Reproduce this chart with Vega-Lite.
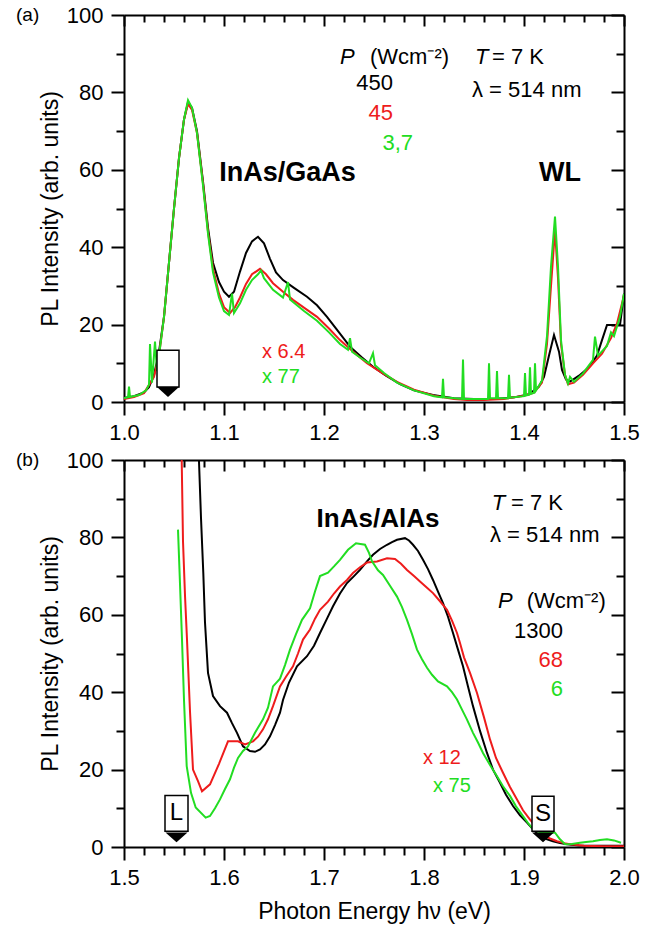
{
  "$schema": "https://vega.github.io/schema/vega-lite/v6.json",
  "autosize": {"type": "none"},
  "padding": {"left": 124, "top": 15, "right": 33, "bottom": 916},
  "background": "white",
  "spacing": 58,
  "bounds": "flush",
  "resolve": {"scale": {"x": "independent", "y": "independent"}},
  "datasets": {
    "a": [
      {"E":1.000,"I":1.0,"s":"high"},{"E":1.010,"I":1.5,"s":"high"},{"E":1.020,"I":2.5,"s":"high"},{"E":1.025,"I":3.8,"s":"high"},{"E":1.030,"I":7,"s":"high"},{"E":1.035,"I":13,"s":"high"},{"E":1.040,"I":22,"s":"high"},{"E":1.045,"I":36,"s":"high"},{"E":1.050,"I":50,"s":"high"},{"E":1.055,"I":63,"s":"high"},{"E":1.060,"I":73,"s":"high"},{"E":1.064,"I":77.5,"s":"high"},{"E":1.068,"I":76,"s":"high"},{"E":1.073,"I":70,"s":"high"},{"E":1.079,"I":57,"s":"high"},{"E":1.084,"I":45,"s":"high"},{"E":1.089,"I":36,"s":"high"},{"E":1.095,"I":31,"s":"high"},{"E":1.100,"I":28.5,"s":"high"},{"E":1.105,"I":27.2,"s":"high"},{"E":1.110,"I":28.5,"s":"high"},{"E":1.116,"I":33.7,"s":"high"},{"E":1.122,"I":38.5,"s":"high"},{"E":1.128,"I":41.5,"s":"high"},{"E":1.134,"I":42.7,"s":"high"},{"E":1.140,"I":41,"s":"high"},{"E":1.146,"I":37,"s":"high"},{"E":1.152,"I":33.5,"s":"high"},{"E":1.159,"I":31.5,"s":"high"},{"E":1.170,"I":29.5,"s":"high"},{"E":1.183,"I":27.2,"s":"high"},{"E":1.193,"I":25,"s":"high"},{"E":1.203,"I":22,"s":"high"},{"E":1.215,"I":18,"s":"high"},{"E":1.226,"I":14.3,"s":"high"},{"E":1.238,"I":11.5,"s":"high"},{"E":1.249,"I":9.1,"s":"high"},{"E":1.262,"I":6.8,"s":"high"},{"E":1.276,"I":4.6,"s":"high"},{"E":1.290,"I":3,"s":"high"},{"E":1.309,"I":1.8,"s":"high"},{"E":1.330,"I":1.0,"s":"high"},{"E":1.350,"I":0.8,"s":"high"},{"E":1.370,"I":0.8,"s":"high"},{"E":1.390,"I":1.2,"s":"high"},{"E":1.405,"I":2,"s":"high"},{"E":1.415,"I":4,"s":"high"},{"E":1.420,"I":6.5,"s":"high"},{"E":1.425,"I":12,"s":"high"},{"E":1.430,"I":17.3,"s":"high"},{"E":1.435,"I":13,"s":"high"},{"E":1.438,"I":8.3,"s":"high"},{"E":1.442,"I":5.8,"s":"high"},{"E":1.446,"I":5.3,"s":"high"},{"E":1.455,"I":6.8,"s":"high"},{"E":1.465,"I":9,"s":"high"},{"E":1.473,"I":12,"s":"high"},{"E":1.478,"I":16,"s":"high"},{"E":1.483,"I":19.9,"s":"high"},{"E":1.496,"I":19.9,"s":"high"},{"E":1.500,"I":28,"s":"high"},
      {"E":1.000,"I":0.8,"s":"mid"},{"E":1.010,"I":1.3,"s":"mid"},{"E":1.020,"I":2.3,"s":"mid"},{"E":1.030,"I":6.5,"s":"mid"},{"E":1.035,"I":12,"s":"mid"},{"E":1.040,"I":22,"s":"mid"},{"E":1.045,"I":36,"s":"mid"},{"E":1.050,"I":50,"s":"mid"},{"E":1.055,"I":63,"s":"mid"},{"E":1.060,"I":73,"s":"mid"},{"E":1.064,"I":77,"s":"mid"},{"E":1.068,"I":75.5,"s":"mid"},{"E":1.073,"I":69.5,"s":"mid"},{"E":1.079,"I":56.5,"s":"mid"},{"E":1.084,"I":44,"s":"mid"},{"E":1.089,"I":34.5,"s":"mid"},{"E":1.095,"I":28,"s":"mid"},{"E":1.100,"I":24.5,"s":"mid"},{"E":1.106,"I":23,"s":"mid"},{"E":1.111,"I":24.5,"s":"mid"},{"E":1.116,"I":27,"s":"mid"},{"E":1.122,"I":30.5,"s":"mid"},{"E":1.128,"I":33,"s":"mid"},{"E":1.136,"I":34.4,"s":"mid"},{"E":1.142,"I":33,"s":"mid"},{"E":1.149,"I":30.7,"s":"mid"},{"E":1.159,"I":28.5,"s":"mid"},{"E":1.169,"I":26.4,"s":"mid"},{"E":1.181,"I":24.2,"s":"mid"},{"E":1.193,"I":22,"s":"mid"},{"E":1.205,"I":19,"s":"mid"},{"E":1.216,"I":16,"s":"mid"},{"E":1.230,"I":12.8,"s":"mid"},{"E":1.243,"I":10,"s":"mid"},{"E":1.258,"I":7.5,"s":"mid"},{"E":1.273,"I":5.2,"s":"mid"},{"E":1.290,"I":3.2,"s":"mid"},{"E":1.310,"I":1.6,"s":"mid"},{"E":1.330,"I":0.8,"s":"mid"},{"E":1.343,"I":0.5,"s":"mid"},{"E":1.360,"I":0.5,"s":"mid"},{"E":1.380,"I":0.8,"s":"mid"},{"E":1.400,"I":1.6,"s":"mid"},{"E":1.410,"I":2.4,"s":"mid"},{"E":1.418,"I":5,"s":"mid"},{"E":1.423,"I":15,"s":"mid"},{"E":1.427,"I":30,"s":"mid"},{"E":1.431,"I":44.4,"s":"mid"},{"E":1.434,"I":32,"s":"mid"},{"E":1.437,"I":15,"s":"mid"},{"E":1.441,"I":7,"s":"mid"},{"E":1.444,"I":4.6,"s":"mid"},{"E":1.450,"I":5,"s":"mid"},{"E":1.459,"I":7,"s":"mid"},{"E":1.469,"I":10,"s":"mid"},{"E":1.478,"I":12.5,"s":"mid"},{"E":1.487,"I":16.5,"s":"mid"},{"E":1.493,"I":20.3,"s":"mid"},{"E":1.500,"I":27.6,"s":"mid"},
      {"E":1.000,"I":1.0,"s":"low"},{"E":1.004,"I":1.2,"s":"low"},{"E":1.005,"I":4,"s":"low"},{"E":1.006,"I":1.3,"s":"low"},{"E":1.015,"I":1.8,"s":"low"},{"E":1.022,"I":3,"s":"low"},{"E":1.025,"I":4.5,"s":"low"},{"E":1.026,"I":15,"s":"low"},{"E":1.028,"I":5,"s":"low"},{"E":1.031,"I":15.6,"s":"low"},{"E":1.033,"I":8,"s":"low"},{"E":1.035,"I":12,"s":"low"},{"E":1.040,"I":22,"s":"low"},{"E":1.045,"I":36,"s":"low"},{"E":1.050,"I":50,"s":"low"},{"E":1.055,"I":63,"s":"low"},{"E":1.060,"I":73,"s":"low"},{"E":1.064,"I":78,"s":"low"},{"E":1.068,"I":76,"s":"low"},{"E":1.073,"I":69.5,"s":"low"},{"E":1.079,"I":56,"s":"low"},{"E":1.084,"I":43.5,"s":"low"},{"E":1.089,"I":33.5,"s":"low"},{"E":1.095,"I":27,"s":"low"},{"E":1.100,"I":23.5,"s":"low"},{"E":1.105,"I":22.5,"s":"low"},{"E":1.108,"I":28,"s":"low"},{"E":1.110,"I":23,"s":"low"},{"E":1.116,"I":25.5,"s":"low"},{"E":1.122,"I":29,"s":"low"},{"E":1.128,"I":31.5,"s":"low"},{"E":1.134,"I":33,"s":"low"},{"E":1.137,"I":34,"s":"low"},{"E":1.140,"I":32,"s":"low"},{"E":1.149,"I":29,"s":"low"},{"E":1.159,"I":27,"s":"low"},{"E":1.164,"I":31,"s":"low"},{"E":1.166,"I":26.5,"s":"low"},{"E":1.180,"I":23.5,"s":"low"},{"E":1.193,"I":21,"s":"low"},{"E":1.205,"I":18,"s":"low"},{"E":1.216,"I":15,"s":"low"},{"E":1.224,"I":13.5,"s":"low"},{"E":1.226,"I":16.5,"s":"low"},{"E":1.228,"I":13,"s":"low"},{"E":1.236,"I":11.5,"s":"low"},{"E":1.245,"I":10,"s":"low"},{"E":1.249,"I":12.6,"s":"low"},{"E":1.251,"I":9.5,"s":"low"},{"E":1.260,"I":7.5,"s":"low"},{"E":1.273,"I":5,"s":"low"},{"E":1.290,"I":3,"s":"low"},{"E":1.310,"I":1.5,"s":"low"},{"E":1.318,"I":1.2,"s":"low"},{"E":1.319,"I":6,"s":"low"},{"E":1.320,"I":1.2,"s":"low"},{"E":1.338,"I":0.8,"s":"low"},{"E":1.339,"I":11,"s":"low"},{"E":1.340,"I":0.8,"s":"low"},{"E":1.364,"I":0.8,"s":"low"},{"E":1.365,"I":10,"s":"low"},{"E":1.366,"I":1,"s":"low"},{"E":1.372,"I":1,"s":"low"},{"E":1.373,"I":8,"s":"low"},{"E":1.374,"I":1,"s":"low"},{"E":1.384,"I":1,"s":"low"},{"E":1.385,"I":7,"s":"low"},{"E":1.386,"I":1.1,"s":"low"},{"E":1.400,"I":1.5,"s":"low"},{"E":1.401,"I":7.5,"s":"low"},{"E":1.402,"I":1.7,"s":"low"},{"E":1.405,"I":1.9,"s":"low"},{"E":1.406,"I":9,"s":"low"},{"E":1.407,"I":2.1,"s":"low"},{"E":1.410,"I":2.4,"s":"low"},{"E":1.411,"I":10,"s":"low"},{"E":1.412,"I":3,"s":"low"},{"E":1.418,"I":5.5,"s":"low"},{"E":1.423,"I":17,"s":"low"},{"E":1.427,"I":35,"s":"low"},{"E":1.431,"I":47.9,"s":"low"},{"E":1.434,"I":35,"s":"low"},{"E":1.437,"I":16,"s":"low"},{"E":1.441,"I":7,"s":"low"},{"E":1.444,"I":4.8,"s":"low"},{"E":1.446,"I":6.5,"s":"low"},{"E":1.450,"I":5.2,"s":"low"},{"E":1.459,"I":7.4,"s":"low"},{"E":1.469,"I":10.9,"s":"low"},{"E":1.471,"I":16.9,"s":"low"},{"E":1.474,"I":12,"s":"low"},{"E":1.483,"I":14.5,"s":"low"},{"E":1.487,"I":18,"s":"low"},{"E":1.490,"I":17,"s":"low"},{"E":1.496,"I":22,"s":"low"},{"E":1.500,"I":28,"s":"low"}
    ],
    "b": [
      {"E":1.573,"I":130,"s":"high"},{"E":1.575,"I":99.6,"s":"high"},{"E":1.577,"I":85,"s":"high"},{"E":1.5793,"I":70.8,"s":"high"},{"E":1.581,"I":58,"s":"high"},{"E":1.584,"I":45,"s":"high"},{"E":1.589,"I":39,"s":"high"},{"E":1.596,"I":36.4,"s":"high"},{"E":1.603,"I":34.7,"s":"high"},{"E":1.608,"I":32,"s":"high"},{"E":1.613,"I":29.5,"s":"high"},{"E":1.619,"I":26,"s":"high"},{"E":1.626,"I":24.8,"s":"high"},{"E":1.631,"I":24.6,"s":"high"},{"E":1.636,"I":25.2,"s":"high"},{"E":1.641,"I":26.5,"s":"high"},{"E":1.646,"I":28.6,"s":"high"},{"E":1.651,"I":31.5,"s":"high"},{"E":1.656,"I":34.7,"s":"high"},{"E":1.659,"I":38,"s":"high"},{"E":1.665,"I":42.5,"s":"high"},{"E":1.673,"I":46.7,"s":"high"},{"E":1.683,"I":49.3,"s":"high"},{"E":1.690,"I":52,"s":"high"},{"E":1.696,"I":55.3,"s":"high"},{"E":1.703,"I":59,"s":"high"},{"E":1.709,"I":62.2,"s":"high"},{"E":1.716,"I":65.5,"s":"high"},{"E":1.723,"I":68.2,"s":"high"},{"E":1.730,"I":70,"s":"high"},{"E":1.736,"I":71.6,"s":"high"},{"E":1.743,"I":73.8,"s":"high"},{"E":1.749,"I":75.5,"s":"high"},{"E":1.756,"I":77,"s":"high"},{"E":1.763,"I":78.1,"s":"high"},{"E":1.768,"I":78.8,"s":"high"},{"E":1.773,"I":79.4,"s":"high"},{"E":1.781,"I":79.8,"s":"high"},{"E":1.785,"I":79.2,"s":"high"},{"E":1.789,"I":78.1,"s":"high"},{"E":1.794,"I":76.5,"s":"high"},{"E":1.799,"I":74.2,"s":"high"},{"E":1.804,"I":71.8,"s":"high"},{"E":1.809,"I":69,"s":"high"},{"E":1.814,"I":66,"s":"high"},{"E":1.819,"I":63,"s":"high"},{"E":1.824,"I":59.5,"s":"high"},{"E":1.829,"I":55.3,"s":"high"},{"E":1.834,"I":51,"s":"high"},{"E":1.839,"I":46.7,"s":"high"},{"E":1.844,"I":41.5,"s":"high"},{"E":1.849,"I":36.4,"s":"high"},{"E":1.856,"I":30,"s":"high"},{"E":1.863,"I":24.3,"s":"high"},{"E":1.869,"I":20,"s":"high"},{"E":1.876,"I":16.6,"s":"high"},{"E":1.882,"I":13.5,"s":"high"},{"E":1.889,"I":10.6,"s":"high"},{"E":1.896,"I":8.2,"s":"high"},{"E":1.903,"I":6.3,"s":"high"},{"E":1.910,"I":4.3,"s":"high"},{"E":1.916,"I":2.8,"s":"high"},{"E":1.923,"I":2,"s":"high"},{"E":1.929,"I":1.5,"s":"high"},{"E":1.936,"I":1,"s":"high"},{"E":1.943,"I":0.7,"s":"high"},{"E":1.955,"I":0.4,"s":"high"},{"E":1.970,"I":0.3,"s":"high"},{"E":1.985,"I":0.3,"s":"high"},{"E":2.000,"I":0.3,"s":"high"},
      {"E":1.5565,"I":120,"s":"mid"},{"E":1.5577,"I":100,"s":"mid"},{"E":1.559,"I":79,"s":"mid"},{"E":1.561,"I":65,"s":"mid"},{"E":1.563,"I":53.6,"s":"mid"},{"E":1.566,"I":35,"s":"mid"},{"E":1.569,"I":20,"s":"mid"},{"E":1.574,"I":17,"s":"mid"},{"E":1.578,"I":14.4,"s":"mid"},{"E":1.586,"I":16.2,"s":"mid"},{"E":1.595,"I":21.5,"s":"mid"},{"E":1.604,"I":27.3,"s":"mid"},{"E":1.614,"I":27.3,"s":"mid"},{"E":1.621,"I":26.5,"s":"mid"},{"E":1.629,"I":27.3,"s":"mid"},{"E":1.634,"I":28.5,"s":"mid"},{"E":1.639,"I":30.4,"s":"mid"},{"E":1.644,"I":33,"s":"mid"},{"E":1.649,"I":36.4,"s":"mid"},{"E":1.656,"I":41.5,"s":"mid"},{"E":1.662,"I":44,"s":"mid"},{"E":1.669,"I":46.7,"s":"mid"},{"E":1.674,"I":50,"s":"mid"},{"E":1.679,"I":53.6,"s":"mid"},{"E":1.686,"I":56.2,"s":"mid"},{"E":1.691,"I":59,"s":"mid"},{"E":1.696,"I":61.3,"s":"mid"},{"E":1.704,"I":63.4,"s":"mid"},{"E":1.710,"I":65.5,"s":"mid"},{"E":1.716,"I":67.3,"s":"mid"},{"E":1.723,"I":69,"s":"mid"},{"E":1.729,"I":70.8,"s":"mid"},{"E":1.736,"I":72.3,"s":"mid"},{"E":1.743,"I":73.5,"s":"mid"},{"E":1.753,"I":73.8,"s":"mid"},{"E":1.763,"I":74.6,"s":"mid"},{"E":1.771,"I":74.4,"s":"mid"},{"E":1.777,"I":73.2,"s":"mid"},{"E":1.783,"I":71.6,"s":"mid"},{"E":1.790,"I":70,"s":"mid"},{"E":1.796,"I":68.6,"s":"mid"},{"E":1.803,"I":67,"s":"mid"},{"E":1.809,"I":65.6,"s":"mid"},{"E":1.816,"I":63.5,"s":"mid"},{"E":1.823,"I":61.3,"s":"mid"},{"E":1.828,"I":58.5,"s":"mid"},{"E":1.833,"I":55.3,"s":"mid"},{"E":1.836,"I":52.7,"s":"mid"},{"E":1.840,"I":49,"s":"mid"},{"E":1.846,"I":45,"s":"mid"},{"E":1.853,"I":39.8,"s":"mid"},{"E":1.860,"I":33.5,"s":"mid"},{"E":1.866,"I":27.8,"s":"mid"},{"E":1.872,"I":23,"s":"mid"},{"E":1.879,"I":19.2,"s":"mid"},{"E":1.886,"I":15.5,"s":"mid"},{"E":1.893,"I":12.3,"s":"mid"},{"E":1.899,"I":9.5,"s":"mid"},{"E":1.906,"I":7.1,"s":"mid"},{"E":1.913,"I":5,"s":"mid"},{"E":1.919,"I":3.3,"s":"mid"},{"E":1.926,"I":2.2,"s":"mid"},{"E":1.933,"I":1.5,"s":"mid"},{"E":1.940,"I":1,"s":"mid"},{"E":1.946,"I":0.7,"s":"mid"},{"E":1.960,"I":0.3,"s":"mid"},{"E":1.980,"I":0.2,"s":"mid"},{"E":2.000,"I":0.2,"s":"mid"},
      {"E":1.554,"I":82,"s":"low"},{"E":1.556,"I":68,"s":"low"},{"E":1.558,"I":53.6,"s":"low"},{"E":1.560,"I":38,"s":"low"},{"E":1.5627,"I":20.9,"s":"low"},{"E":1.567,"I":14,"s":"low"},{"E":1.5717,"I":10.2,"s":"low"},{"E":1.5817,"I":7.6,"s":"low"},{"E":1.586,"I":8,"s":"low"},{"E":1.591,"I":10,"s":"low"},{"E":1.596,"I":12.3,"s":"low"},{"E":1.601,"I":15,"s":"low"},{"E":1.606,"I":17.5,"s":"low"},{"E":1.610,"I":20.5,"s":"low"},{"E":1.614,"I":23,"s":"low"},{"E":1.619,"I":24.8,"s":"low"},{"E":1.624,"I":26,"s":"low"},{"E":1.631,"I":29.5,"s":"low"},{"E":1.639,"I":33,"s":"low"},{"E":1.644,"I":36,"s":"low"},{"E":1.649,"I":41.5,"s":"low"},{"E":1.656,"I":43.5,"s":"low"},{"E":1.661,"I":47,"s":"low"},{"E":1.666,"I":51,"s":"low"},{"E":1.672,"I":55,"s":"low"},{"E":1.678,"I":58.7,"s":"low"},{"E":1.686,"I":61.7,"s":"low"},{"E":1.691,"I":66,"s":"low"},{"E":1.696,"I":70,"s":"low"},{"E":1.704,"I":70.9,"s":"low"},{"E":1.710,"I":72.5,"s":"low"},{"E":1.716,"I":74.2,"s":"low"},{"E":1.724,"I":76.8,"s":"low"},{"E":1.732,"I":78.5,"s":"low"},{"E":1.741,"I":78.1,"s":"low"},{"E":1.745,"I":76,"s":"low"},{"E":1.748,"I":73.8,"s":"low"},{"E":1.754,"I":71.5,"s":"low"},{"E":1.759,"I":70.3,"s":"low"},{"E":1.766,"I":67.5,"s":"low"},{"E":1.773,"I":64.7,"s":"low"},{"E":1.778,"I":62,"s":"low"},{"E":1.783,"I":58.7,"s":"low"},{"E":1.788,"I":55,"s":"low"},{"E":1.793,"I":51,"s":"low"},{"E":1.798,"I":48.5,"s":"low"},{"E":1.803,"I":46.3,"s":"low"},{"E":1.808,"I":44.5,"s":"low"},{"E":1.814,"I":42.8,"s":"low"},{"E":1.823,"I":41.5,"s":"low"},{"E":1.828,"I":40,"s":"low"},{"E":1.833,"I":38.1,"s":"low"},{"E":1.838,"I":35.5,"s":"low"},{"E":1.843,"I":32.9,"s":"low"},{"E":1.849,"I":29.5,"s":"low"},{"E":1.854,"I":27,"s":"low"},{"E":1.859,"I":24.3,"s":"low"},{"E":1.866,"I":21.2,"s":"low"},{"E":1.873,"I":18.3,"s":"low"},{"E":1.879,"I":15.7,"s":"low"},{"E":1.886,"I":13.2,"s":"low"},{"E":1.892,"I":10.5,"s":"low"},{"E":1.899,"I":8,"s":"low"},{"E":1.904,"I":6.2,"s":"low"},{"E":1.909,"I":4.6,"s":"low"},{"E":1.914,"I":4,"s":"low"},{"E":1.919,"I":3.7,"s":"low"},{"E":1.925,"I":3.8,"s":"low"},{"E":1.931,"I":3.7,"s":"low"},{"E":1.936,"I":2,"s":"low"},{"E":1.941,"I":0.7,"s":"low"},{"E":1.948,"I":0.8,"s":"low"},{"E":1.956,"I":1.1,"s":"low"},{"E":1.962,"I":1.3,"s":"low"},{"E":1.969,"I":1.5,"s":"low"},{"E":1.976,"I":1.8,"s":"low"},{"E":1.983,"I":2,"s":"low"},{"E":1.990,"I":1.7,"s":"low"},{"E":1.997,"I":1.1,"s":"low"}
    ],
    "ta": [
      {"E":1.1635,"I":59.2,"t":"InAs/GaAs","k":"bold","s":"label"},
      {"E":1.436,"I":59.2,"t":"WL","k":"bold","s":"label"},
      {"E":1.216,"I":89.1,"t":"P","k":"ital","s":"label"},
      {"E":1.351,"I":89.1,"t":"T","k":"ital","s":"label"},
      {"E":1.246,"I":89.1,"t":"(Wcm⁻²)","k":"left","s":"label"},
      {"E":1.368,"I":89.1,"t":" =  7 K","k":"left","s":"label"},
      {"E":1.348,"I":80.6,"t":"λ =  514 nm","k":"left","s":"label"},
      {"E":1.269,"I":82.4,"t":"450","k":"num","s":"high"},
      {"E":1.269,"I":74.7,"t":"45","k":"num","s":"mid"},
      {"E":1.289,"I":66.9,"t":"3,7","k":"num","s":"low"},
      {"E":1.138,"I":12.9,"t":"x 6.4","k":"mult","s":"mid"},
      {"E":1.138,"I":6.5,"t":"x 77","k":"mult","s":"low"}
    ],
    "tb": [
      {"E":1.754,"I":84.8,"t":"InAs/AlAs","k":"bold","s":"label"},
      {"E":1.8677,"I":88.8,"t":"T","k":"ital","s":"label"},
      {"E":1.874,"I":63.5,"t":"P","k":"ital","s":"label"},
      {"E":1.887,"I":88.8,"t":" =  7 K","k":"left","s":"label"},
      {"E":1.866,"I":80.7,"t":"λ =  514 nm","k":"left","s":"label"},
      {"E":1.9027,"I":63.5,"t":"(Wcm⁻²)","k":"left","s":"label"},
      {"E":1.939,"I":55.7,"t":"1300","k":"num","s":"high"},
      {"E":1.939,"I":48.4,"t":"68","k":"num","s":"mid"},
      {"E":1.939,"I":40.7,"t":"6","k":"num","s":"low"},
      {"E":1.799,"I":23.1,"t":"x 12","k":"mult","s":"mid"},
      {"E":1.809,"I":15.7,"t":"x 75","k":"mult","s":"low"},
      {"E":1.5525,"I":8.7,"t":"L","k":"box","s":"label"},
      {"E":1.919,"I":8.4,"t":"S","k":"box","s":"label"}
    ],
    "boxa": [{"E":1.033,"Ee":1.055,"I":3.9,"Ie":13.4}],
    "boxb": [{"E":1.541,"Ee":1.564,"I":4.1,"Ie":13.3},{"E":1.908,"Ee":1.930,"I":4.1,"Ie":13.1}],
    "tria": [{"E":1.044,"I":2.6}],
    "trib": [{"E":1.5525,"I":2.5},{"E":1.919,"I":2.5}]
  },
  "vconcat": [
    {
      "width": 500,
      "height": 387,
      "title": {"text": "(a)", "anchor": "start", "frame": "group", "dx": -108, "dy": 30, "offset": 0, "baseline": "middle", "fontSize": 19, "fontWeight": "normal", "font": "Liberation Sans", "color": "black"},
      "encoding": {
        "x": {"field": "E", "type": "quantitative", "scale": {"domain": [1.0, 1.5], "nice": false, "zero": false}, "axis": null},
        "y": {"field": "I", "type": "quantitative", "scale": {"domain": [0, 100], "nice": false, "zero": false}, "axis": null},
        "color": {"field": "s", "type": "nominal", "scale": {"domain": ["high", "mid", "low", "label"], "range": ["black", "#ee1c1c", "#22dd22", "black"]}, "legend": null}
      },
      "layer": [
        {
          "data": {"name": "a"},
          "transform": [{"filter": "datum.s === 'high'"}],
          "mark": {"type": "line", "clip": true, "strokeWidth": 2},
          "encoding": {
            "x": {"field": "E", "type": "quantitative", "scale": {"domain": [1.0, 1.5], "nice": false, "zero": false},
              "axis": {"orient": "bottom", "title": null, "labelPadding": 7,
                "values": [1.0,1.02,1.04,1.06,1.08,1.1,1.12,1.14,1.16,1.18,1.2,1.22,1.24,1.26,1.28,1.3,1.32,1.34,1.36,1.38,1.4,1.42,1.44,1.46,1.48,1.5],
                "labelExpr": "abs(datum.value*10 - round(datum.value*10)) < 0.01 ? format(datum.value, '.1f') : ''",
                "tickSize": {"condition": {"test": "abs(datum.value*10 - round(datum.value*10)) < 0.01", "value": 13}, "value": 8}}},
            "y": {"field": "I", "type": "quantitative", "scale": {"domain": [0, 100], "nice": false, "zero": false},
              "axis": {"orient": "left", "title": "PL Intensity (arb. units)", "labelPadding": 8,
                "values": [0,10,20,30,40,50,60,70,80,90,100],
                "labelExpr": "datum.value % 20 === 0 ? datum.value : ''",
                "tickSize": {"condition": {"test": "datum.value % 20 === 0", "value": 13}, "value": 8}}}
          }
        },
        {
          "data": {"name": "a"},
          "transform": [{"filter": "datum.s === 'mid'"}],
          "mark": {"type": "line", "clip": true, "strokeWidth": 2}
        },
        {
          "data": {"name": "a"},
          "transform": [{"filter": "datum.s === 'low'"}],
          "mark": {"type": "line", "clip": true, "strokeWidth": 2}
        },
        {
          "data": {"name": "boxa"},
          "mark": {"type": "rect", "fill": "white", "stroke": "black", "strokeWidth": 1.5},
          "encoding": {
            "x": {"field": "E", "type": "quantitative", "scale": {"domain": [1.0, 1.5], "nice": false, "zero": false},
              "axis": {"orient": "top", "title": null, "labels": false,
                "values": [1.0,1.02,1.04,1.06,1.08,1.1,1.12,1.14,1.16,1.18,1.2,1.22,1.24,1.26,1.28,1.3,1.32,1.34,1.36,1.38,1.4,1.42,1.44,1.46,1.48,1.5],
                "tickSize": {"condition": {"test": "abs(datum.value*10 - round(datum.value*10)) < 0.01", "value": -11}, "value": -7}}},
            "x2": {"field": "Ee"},
            "y": {"field": "I", "type": "quantitative", "scale": {"domain": [0, 100], "nice": false, "zero": false},
              "axis": {"orient": "right", "title": null, "labels": false,
                "values": [0,10,20,30,40,50,60,70,80,90,100],
                "tickSize": {"condition": {"test": "datum.value % 20 === 0", "value": -13}, "value": -8}}},
            "y2": {"field": "Ie"},
            "color": null
          }
        },
        {
          "data": {"name": "tria"},
          "mark": {"type": "point", "shape": "M-1,-0.45L1,-0.45L0,0.45Z", "filled": true, "fill": "black", "stroke": null, "size": 484, "opacity": 1},
          "encoding": {"color": null}
        },
        {
          "data": {"name": "ta"},
          "transform": [{"filter": "datum.k === 'bold'"}],
          "mark": {"type": "text", "font": "Liberation Sans", "fontSize": 27, "fontWeight": "bold", "align": "center", "baseline": "middle"},
          "encoding": {"text": {"field": "t"}}
        },
        {
          "data": {"name": "ta"},
          "transform": [{"filter": "datum.k === 'ital'"}],
          "mark": {"type": "text", "font": "Liberation Sans", "fontSize": 22, "fontStyle": "italic", "align": "left", "baseline": "middle"},
          "encoding": {"text": {"field": "t"}}
        },
        {
          "data": {"name": "ta"},
          "transform": [{"filter": "datum.k === 'left'"}],
          "mark": {"type": "text", "font": "Liberation Sans", "fontSize": 22, "align": "left", "baseline": "middle"},
          "encoding": {"text": {"field": "t"}}
        },
        {
          "data": {"name": "ta"},
          "transform": [{"filter": "datum.k === 'num'"}],
          "mark": {"type": "text", "font": "Liberation Sans", "fontSize": 22, "align": "right", "baseline": "middle"},
          "encoding": {"text": {"field": "t"}}
        },
        {
          "data": {"name": "ta"},
          "transform": [{"filter": "datum.k === 'mult'"}],
          "mark": {"type": "text", "font": "Liberation Sans", "fontSize": 20, "align": "left", "baseline": "middle"},
          "encoding": {"text": {"field": "t"}}
        }
      ],
      "resolve": {"axis": {"x": "independent", "y": "independent"}}
    },
    {
      "width": 500,
      "height": 387,
      "title": {"text": "(b)", "anchor": "start", "frame": "group", "dx": -108, "dy": 30, "offset": 0, "baseline": "middle", "fontSize": 19, "fontWeight": "normal", "font": "Liberation Sans", "color": "black"},
      "encoding": {
        "x": {"field": "E", "type": "quantitative", "scale": {"domain": [1.5, 2.0], "nice": false, "zero": false}, "axis": null},
        "y": {"field": "I", "type": "quantitative", "scale": {"domain": [0, 100], "nice": false, "zero": false}, "axis": null},
        "color": {"field": "s", "type": "nominal", "scale": {"domain": ["high", "mid", "low", "label"], "range": ["black", "#ee1c1c", "#22dd22", "black"]}, "legend": null}
      },
      "layer": [
        {
          "data": {"name": "b"},
          "transform": [{"filter": "datum.s === 'high'"}],
          "mark": {"type": "line", "clip": true, "strokeWidth": 2},
          "encoding": {
            "x": {"field": "E", "type": "quantitative", "scale": {"domain": [1.5, 2.0], "nice": false, "zero": false},
              "axis": {"orient": "bottom", "title": "Photon Energy hν (eV)", "titlePadding": 12, "labelPadding": 7,
                "values": [1.5,1.52,1.54,1.56,1.58,1.6,1.62,1.64,1.66,1.68,1.7,1.72,1.74,1.76,1.78,1.8,1.82,1.84,1.86,1.88,1.9,1.92,1.94,1.96,1.98,2.0],
                "labelExpr": "abs(datum.value*10 - round(datum.value*10)) < 0.01 ? format(datum.value, '.1f') : ''",
                "tickSize": {"condition": {"test": "abs(datum.value*10 - round(datum.value*10)) < 0.01", "value": 13}, "value": 8}}},
            "y": {"field": "I", "type": "quantitative", "scale": {"domain": [0, 100], "nice": false, "zero": false},
              "axis": {"orient": "left", "title": "PL Intensity (arb. units)", "labelPadding": 8,
                "values": [0,10,20,30,40,50,60,70,80,90,100],
                "labelExpr": "datum.value % 20 === 0 ? datum.value : ''",
                "tickSize": {"condition": {"test": "datum.value % 20 === 0", "value": 13}, "value": 8}}}
          }
        },
        {
          "data": {"name": "b"},
          "transform": [{"filter": "datum.s === 'mid'"}],
          "mark": {"type": "line", "clip": true, "strokeWidth": 2}
        },
        {
          "data": {"name": "b"},
          "transform": [{"filter": "datum.s === 'low'"}],
          "mark": {"type": "line", "clip": true, "strokeWidth": 2}
        },
        {
          "data": {"name": "boxb"},
          "mark": {"type": "rect", "fill": "white", "stroke": "black", "strokeWidth": 1.5},
          "encoding": {
            "x": {"field": "E", "type": "quantitative", "scale": {"domain": [1.5, 2.0], "nice": false, "zero": false},
              "axis": {"orient": "top", "title": null, "labels": false,
                "values": [1.5,1.52,1.54,1.56,1.58,1.6,1.62,1.64,1.66,1.68,1.7,1.72,1.74,1.76,1.78,1.8,1.82,1.84,1.86,1.88,1.9,1.92,1.94,1.96,1.98,2.0],
                "tickSize": {"condition": {"test": "abs(datum.value*10 - round(datum.value*10)) < 0.01", "value": -11}, "value": -7}}},
            "x2": {"field": "Ee"},
            "y": {"field": "I", "type": "quantitative", "scale": {"domain": [0, 100], "nice": false, "zero": false},
              "axis": {"orient": "right", "title": null, "labels": false,
                "values": [0,10,20,30,40,50,60,70,80,90,100],
                "tickSize": {"condition": {"test": "datum.value % 20 === 0", "value": -13}, "value": -8}}},
            "y2": {"field": "Ie"},
            "color": null
          }
        },
        {
          "data": {"name": "trib"},
          "mark": {"type": "point", "shape": "M-1,-0.45L1,-0.45L0,0.45Z", "filled": true, "fill": "black", "stroke": null, "size": 484, "opacity": 1},
          "encoding": {"color": null}
        },
        {
          "data": {"name": "tb"},
          "transform": [{"filter": "datum.k === 'bold'"}],
          "mark": {"type": "text", "font": "Liberation Sans", "fontSize": 26, "fontWeight": "bold", "align": "center", "baseline": "middle"},
          "encoding": {"text": {"field": "t"}}
        },
        {
          "data": {"name": "tb"},
          "transform": [{"filter": "datum.k === 'ital'"}],
          "mark": {"type": "text", "font": "Liberation Sans", "fontSize": 22, "fontStyle": "italic", "align": "left", "baseline": "middle"},
          "encoding": {"text": {"field": "t"}}
        },
        {
          "data": {"name": "tb"},
          "transform": [{"filter": "datum.k === 'left'"}],
          "mark": {"type": "text", "font": "Liberation Sans", "fontSize": 22, "align": "left", "baseline": "middle"},
          "encoding": {"text": {"field": "t"}}
        },
        {
          "data": {"name": "tb"},
          "transform": [{"filter": "datum.k === 'num'"}],
          "mark": {"type": "text", "font": "Liberation Sans", "fontSize": 22, "align": "right", "baseline": "middle"},
          "encoding": {"text": {"field": "t"}}
        },
        {
          "data": {"name": "tb"},
          "transform": [{"filter": "datum.k === 'mult'"}],
          "mark": {"type": "text", "font": "Liberation Sans", "fontSize": 20, "align": "left", "baseline": "middle"},
          "encoding": {"text": {"field": "t"}}
        },
        {
          "data": {"name": "tb"},
          "transform": [{"filter": "datum.k === 'box'"}],
          "mark": {"type": "text", "font": "Liberation Sans", "fontSize": 24, "align": "center", "baseline": "middle"},
          "encoding": {"text": {"field": "t"}}
        }
      ],
      "resolve": {"axis": {"x": "independent", "y": "independent"}}
    }
  ],
  "config": {
    "view": {"stroke": null},
    "font": "Liberation Sans",
    "axis": {
      "domainColor": "black", "domainWidth": 2, "tickColor": "black", "tickWidth": 2,
      "labelFontSize": 22, "labelColor": "black", "labelFont": "Liberation Sans",
      "titleFontSize": 23, "titleColor": "black", "titleFont": "Liberation Sans", "titleFontWeight": "normal",
      "grid": false, "labelFlush": false, "labelOverlap": false, "labelPadding": 4
    }
  }
}
